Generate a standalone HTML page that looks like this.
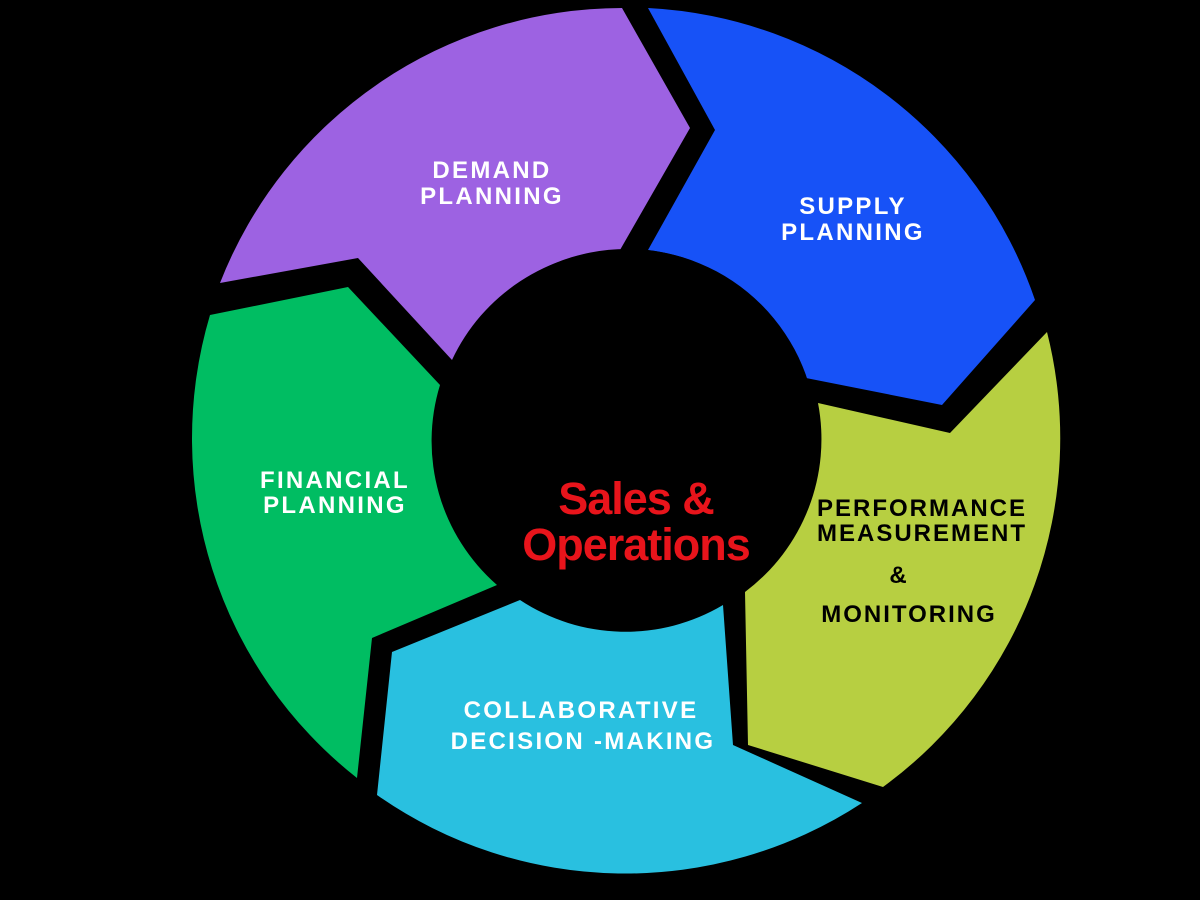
<!DOCTYPE html>
<html><head><meta charset="utf-8"><style>
html,body{margin:0;padding:0;background:#000;}
svg{display:block}
text{font-family:"Liberation Sans",Arial,sans-serif;font-weight:bold;}
</style></head><body>
<svg width="1200" height="900" viewBox="0 0 1200 900" xmlns="http://www.w3.org/2000/svg">
<rect width="1200" height="900" fill="#000"/>
<path d="M220,283 A432,432 0 0 1 622,8 L690,128 L620,250 A191,191 0 0 0 452,360 L358,258 Z" fill="#9d62e2"/>
<path d="M648,8 A432,432 0 0 1 1035,300 L942,405 L806,378 A191,191 0 0 0 648,250 L715,130 Z" fill="#1752f7"/>
<path d="M1047,332 A432,432 0 0 1 883,787 L748,745 L745,592 A191,191 0 0 0 818,403 L950,433 Z" fill="#b7cf41"/>
<path d="M862,803 A432,432 0 0 1 377,795 L392,652 L520,600 A191,191 0 0 0 723,605 L733,745 Z" fill="#29c0e0"/>
<path d="M357,778 A432,432 0 0 1 210,315 L348,287 L440,385 A191,191 0 0 0 497,585 L372,638 Z" fill="#00bd62"/>
<circle cx="627" cy="439" r="190" fill="#000"/>
<g fill="#fff" font-size="24" text-anchor="middle" letter-spacing="2.3">
<text x="492" y="178">DEMAND</text><text x="492" y="204">PLANNING</text>
<text x="853" y="214">SUPPLY</text><text x="853" y="240">PLANNING</text>
<text x="335" y="488">FINANCIAL</text><text x="335" y="513">PLANNING</text>
<text x="581" y="718">COLLABORATIVE</text><text x="583" y="749">DECISION -MAKING</text>
</g>
<g fill="#000" font-size="24" text-anchor="middle" letter-spacing="2">
<text x="922" y="516">PERFORMANCE</text><text x="922" y="541">MEASUREMENT</text>
<text x="899" y="583">&amp;</text>
<text x="909" y="622">MONITORING</text>
</g>
<g fill="#e8141b" font-size="45" text-anchor="middle" letter-spacing="-1">
<text x="636" y="514">Sales &amp;</text>
<text x="636" y="560">Operations</text>
</g>
</svg>
</body></html>
